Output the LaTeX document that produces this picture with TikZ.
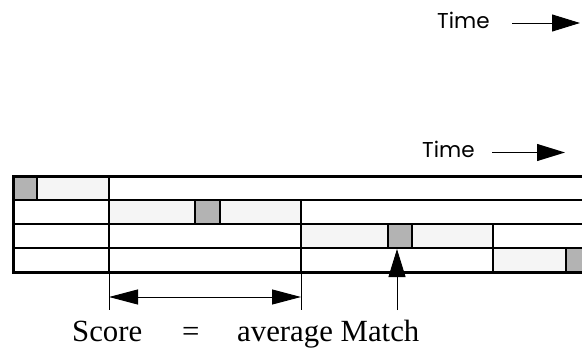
\documentclass[tikz,border=0pt]{standalone}
\usepackage{fontspec}
\setmainfont{Liberation Serif}
\newfontfamily\timefont{Poppins}
\usetikzlibrary{arrows.meta}
\definecolor{ink}{HTML}{000000}
\definecolor{spanfill}{HTML}{F5F5F5}
\definecolor{hitfill}{HTML}{B3B3B3}
\tikzset{
  frame/.style={draw=ink, line width=3pt},
  rule/.style={draw=ink, line width=1.6pt},
  hit/.style={draw=ink, fill=hitfill, line width=1.3pt},
  tick/.style={draw=ink, line width=1pt},
  tip/.style={-{Triangle[length=28pt,width=17pt]}, draw=ink, line width=1pt},
  both/.style={{Triangle[length=29pt,width=15pt]}-{Triangle[length=29pt,width=15pt]}, draw=ink, line width=1pt},
  tlab/.style={font=\timefont\fontsize{21.5}{25}\selectfont, anchor=base west, inner sep=0pt},
  slab/.style={font=\fontsize{30.8}{36}\selectfont, anchor=base west, inner sep=0pt},
}

\begin{document}
\begin{tikzpicture}[x=1pt,y=-1pt]
  \clip (0,0) rectangle (582,348);
  \fill[white] (0,0) rectangle (582,348);
  % time labels
  \node[tlab] (time1) at (437,28) {Time};
  \coordinate (t1a) at (512,23);
  \coordinate (t1b) at (580,23);
  \draw[tip] (t1a) -- (t1b);
  \node[tlab] (time2) at (422,157) {Time};
  \coordinate (t2a) at (492,152.5);
  \coordinate (t2b) at (565,152.5);
  \draw[tip] (t2a) -- (t2b);
  % spans: row top / span start / hit start / hit end / span end
  \foreach \y/\a/\b/\c/\d in {176/13/13/37/109, 200/109/195/220/301,
                              224/301/388/412/493, 248/493/566/590/600}{
    \fill[spanfill] (\a,\y) rectangle (\d,\y+24);
    \draw[hit] (\b,\y) rectangle (\c,\y+24);
  }
  \foreach \y in {200,224,248}
    \draw[rule] (13,\y) -- (600,\y);
  \draw[rule] (109,176) -- (109,272);
  \draw[rule] (301,200) -- (301,272);
  \draw[rule] (493,224) -- (493,272);
  \draw[frame] (13,176) rectangle (600,272);
  % window ticks and arrows
  \coordinate (w1) at (109,272);
  \coordinate (w2) at (301,272);
  \draw[tick] (w1) -- ++(0,38);
  \draw[tick] (w2) -- ++(0,38);
  \coordinate (s1) at (109,297);
  \coordinate (s2) at (301,297);
  \draw[both] (s1) -- (s2);
  \coordinate (m0) at (397,310);
  \coordinate (m1) at (397,249);
  \draw[tip] (m0) -- (m1);
  % formula
  \node[slab] (score) at (72,341.5) {Score};
  \node[slab] (eq) at (182,341.5) {=};
  \node[slab] (avg) at (237,341.5) {average Match};
\end{tikzpicture}
\end{document}
